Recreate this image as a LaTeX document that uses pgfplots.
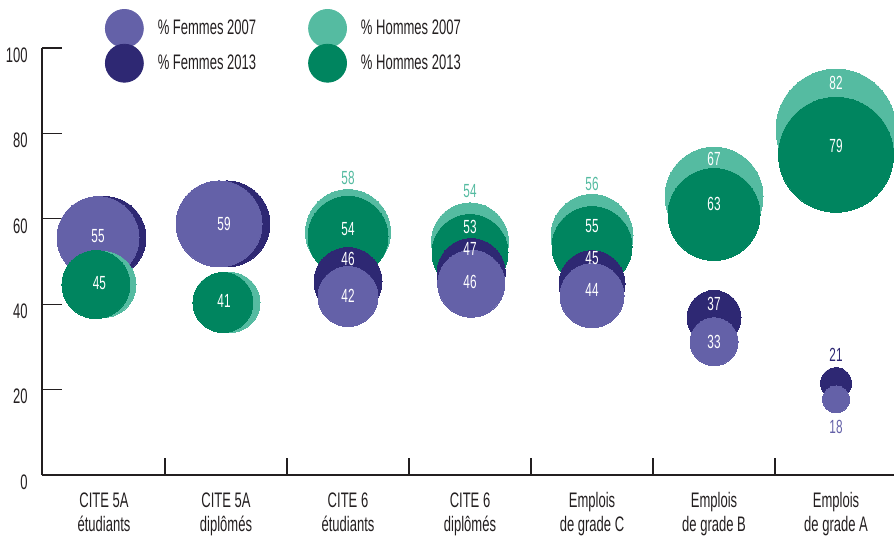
\documentclass[border=0pt]{standalone}
\usepackage{pgfplots}
\usepackage{pgfplotstable}
\pgfplotsset{compat=1.18}
\usepackage{fontspec}
\setmainfont{Liberation Sans}[FakeStretch=0.62]
\definecolor{lpurple}{HTML}{6461A8}
\definecolor{dpurple}{HTML}{2E2873}
\definecolor{lgreen}{HTML}{55BBA1}
\definecolor{dgreen}{HTML}{00855F}
\definecolor{textc}{HTML}{231F20}

% bubbles: x = category position, y = centre height, r = radius (pt)
\pgfplotstableread{
x y r
2.0 56.9 21.25
3.0 54.7 19.25
4.0 56.1 20.5
5.0 65.3 24.5
6.0 81.0 30
}\hsevenup
\pgfplotstableread{
x y r
2.0 55.9 20
3.0 52.1 19
4.0 53.5 20
5.0 61.0 23
6.0 75.0 28.75
}\hthirteenup
\pgfplotstableread{
x y r
0.008 55.6 20.5
1.008 58.8 21.5
}\fthirteenup
\pgfplotstableread{
x y r
-0.049 55.6 20.5
0.943 58.8 21.5
}\fsevenup
\pgfplotstableread{
x y r
-0.008 44.6 16.5
1.033 40.4 15
}\hsevenlow
\pgfplotstableread{
x y r
-0.066 44.6 17
0.975 40.4 15
}\hthirteenlow
\pgfplotstableread{
x y r
2.0 45.3 17
3.01 47.4 17
4.0 44.8 16.5
5.0 36.9 13.5
6.0 21.5 7.75
}\fthirteenlow
\pgfplotstableread{
x y r
2.0 41.8 15
3.01 44.8 16.75
4.0 42.0 16
5.0 31.2 12
6.0 17.7 6.75
}\fsevenlow
% value labels
\pgfplotstableread{
x y l
-0.049 55.9 55
-0.037 45.0 45
0.984 58.9 59
0.984 40.8 41
2.0 57.7 54
2.0 50.7 46
2.0 42.0 42
3.0 58.2 53
3.0 53.0 47
3.0 45.3 46
4.0 58.2 55
4.0 50.7 45
4.0 43.4 44
5.0 73.9 67
5.0 63.4 63
5.0 40.1 37
5.0 31.2 33
6.0 91.8 82
6.0 77.0 79
}\labwhite
\pgfplotstableread{
x y l
2.0 69.5 58
3.0 66.4 54
4.0 68.1 56
}\labgreen
\pgfplotstableread{
x y l
6.0 28.2 21
}\labdpurple
\pgfplotstableread{
x y l
6.0 11.3 18
}\lablpurple

\pgfplotsset{
  bub/.style={scatter, only marks, mark=*, forget plot,
    scatter/use mapped color={draw=#1, fill=#1},
    mark options={line width=0pt},
    visualization depends on={\thisrow{r} \as \rr},
    scatter/@pre marker code/.append style={/tikz/mark size=\rr pt},
    point meta=\thisrow{r}},
  lab/.style={only marks, mark=none, forget plot, nodes near coords,
    point meta=explicit symbolic,
    nodes near coords style={anchor=center, inner sep=0pt, text=#1,
      font=\fontsize{9.5}{9.5}\selectfont}},
}

\begin{document}
\begin{tikzpicture}
\begin{axis}[
  at={(0,0)}, anchor=south west,
  scale only axis, width=426pt, height=213.5pt,
  clip=false,
  xmin=-0.508, xmax=6.475, ymin=0, ymax=100,
  axis x line*=bottom, axis y line*=left,
  axis line style={line width=0.8pt, textc},
  tick align=inside,
  ytick={0,20,...,100},
  xtick={0,...,6},
  xticklabels={{CITE 5A\\étudiants},{CITE 5A\\diplômés},{CITE 6\\étudiants},{CITE 6\\diplômés},{Emplois\\de grade C},{Emplois\\de grade B},{Emplois\\de grade A}},
  major x tick style={draw=none},
  minor xtick={0.5,1.5,...,5.5},
  major tick length=10pt, minor tick length=8.5pt,
  tick style={line width=0.6pt, textc},
  /pgf/number format/assume math mode=true,
  yticklabel style={inner sep=0pt, xshift=-7pt, yshift=-3.5pt, text=textc,
    font=\fontsize{10.5}{12}\selectfont},
  xticklabel style={align=center, inner sep=0pt, yshift=-8.5pt, text=textc,
    font=\fontsize{10.5}{12}\selectfont},
  legend columns=2,
  legend cell align=left,
  legend style={at={(0.0739,1.0913)}, anchor=north west, draw=none, fill=none,
    inner sep=0pt, outer sep=0pt, row sep=-2pt, column sep=7pt,
    font=\fontsize{10.5}{12}\selectfont, text=textc,
    /tikz/every even column/.append style={column sep=26pt},
    nodes={inner sep=0pt}},
]
\addlegendimage{legend image code/.code={\fill[lpurple] (9.5pt,0pt) circle (9.5pt);}}
\addlegendentry{\% Femmes 2007}
\addlegendimage{legend image code/.code={\fill[lgreen] (9.5pt,0pt) circle (9.5pt);}}
\addlegendentry{\% Hommes 2007}
\addlegendimage{legend image code/.code={\fill[dpurple] (9.5pt,0pt) circle (9.5pt);}}
\addlegendentry{\% Femmes 2013}
\addlegendimage{legend image code/.code={\fill[dgreen] (9.5pt,0pt) circle (9.5pt);}}
\addlegendentry{\% Hommes 2013}

\addplot[bub=lgreen] table {\hsevenup};
\addplot[bub=dgreen] table {\hthirteenup};
\addplot[bub=dpurple] table {\fthirteenup};
\addplot[bub=lpurple] table {\fsevenup};
\addplot[bub=lgreen] table {\hsevenlow};
\addplot[bub=dgreen] table {\hthirteenlow};
\addplot[bub=dpurple] table {\fthirteenlow};
\addplot[bub=lpurple] table {\fsevenlow};

\addplot[lab=white] table[meta=l] {\labwhite};
\addplot[lab=lgreen] table[meta=l] {\labgreen};
\addplot[lab=dpurple] table[meta=l] {\labdpurple};
\addplot[lab=lpurple] table[meta=l] {\lablpurple};
\end{axis}
\pgfresetboundingbox
\path[use as bounding box] (-21pt,-30.5pt) rectangle (426pt,237.5pt);
\end{tikzpicture}
\end{document}
